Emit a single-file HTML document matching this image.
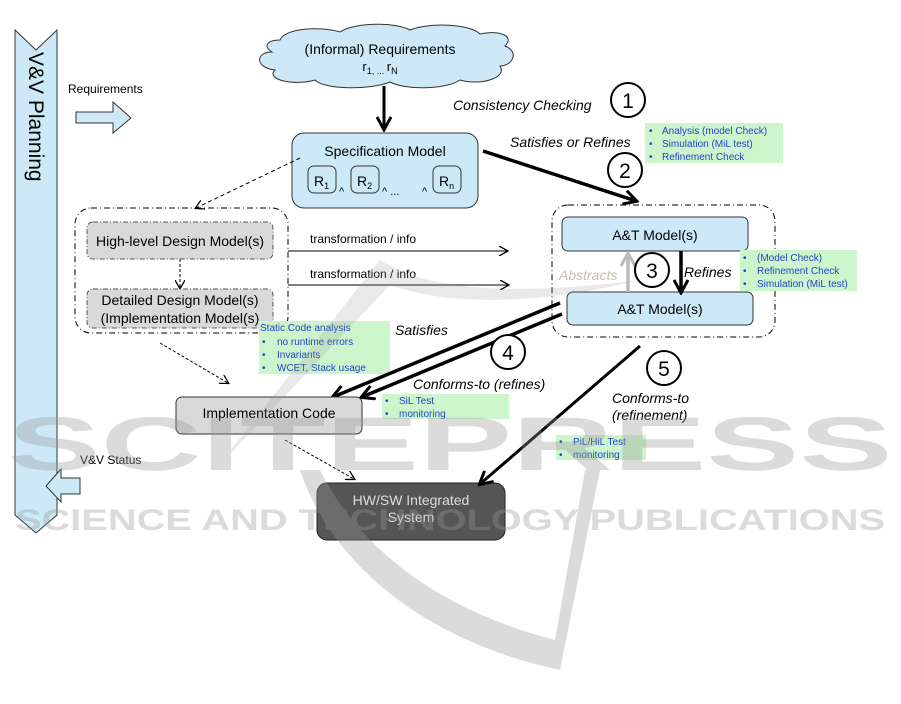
<!DOCTYPE html>
<html><head><meta charset="utf-8"><style>
html,body{margin:0;padding:0;background:#fff;}
svg{display:block;font-family:"Liberation Sans",Arial,sans-serif;}
</style></head><body>
<svg width="901" height="704" viewBox="0 0 901 704" xmlns="http://www.w3.org/2000/svg">
<defs>
<marker id="ab" markerWidth="10" markerHeight="10" refX="8" refY="5" orient="auto" markerUnits="userSpaceOnUse"><path d="M0,0 L9,5 L0,10" fill="none" stroke="#000" stroke-width="1.3"/></marker>
<marker id="abig" markerWidth="16" markerHeight="16" refX="13" refY="8" orient="auto" markerUnits="userSpaceOnUse"><path d="M1,1 L14,8 L1,15" fill="none" stroke="#000" stroke-width="3"/></marker>
<marker id="agray" markerWidth="16" markerHeight="16" refX="13" refY="8" orient="auto" markerUnits="userSpaceOnUse"><path d="M1,1 L14,8 L1,15" fill="none" stroke="#bbb" stroke-width="3"/></marker>
</defs>

<!-- left bar -->
<path d="M15,30 L36,50 L57,30 L57,515 L36,533 L15,515 Z" fill="#cde9f8" stroke="#333" stroke-width="1"/>
<text transform="translate(29,52) rotate(90)" font-size="21" fill="#000">V&amp;V Planning</text>

<text x="68" y="93" font-size="12">Requirements</text>
<path d="M76,112 L113,112 L113,102 L131,118 L113,133 L113,123 L76,123 Z" fill="#cde9f8" stroke="#333"/>
<text x="80" y="464" font-size="12">V&amp;V  Status</text>
<path d="M80,478 L61,478 L61,469 L46,486 L61,502 L61,494 L80,494 Z" fill="#cde9f8" stroke="#333"/>

<!-- cloud -->
<path d="M280,40 C285,28 320,26 340,32 C355,22 395,22 410,30 C430,22 470,24 480,34 C500,30 515,36 505,46 C520,52 512,66 500,66 C508,78 480,86 460,80 C445,90 405,90 390,82 C370,90 325,90 315,80 C295,86 265,80 275,70 C255,68 255,52 272,52 C262,46 268,40 280,40 Z" fill="#cde9f8" stroke="#333"/>
<text x="380" y="54" font-size="14" text-anchor="middle">(Informal) Requirements</text>
<text x="380" y="71" font-size="13" text-anchor="middle">r<tspan font-size="9" dy="3">1, ... </tspan><tspan dy="-3">r</tspan><tspan font-size="9" dy="3">N</tspan></text>

<line x1="384" y1="86" x2="384" y2="129" stroke="#000" stroke-width="3" marker-end="url(#abig)"/>

<!-- spec model -->
<rect x="292" y="133" width="186" height="75" rx="12" fill="#cde9f8" stroke="#333"/>
<text x="385" y="156" font-size="14" text-anchor="middle">Specification Model</text>
<rect x="308" y="166" width="28" height="27" rx="6" fill="#cde9f8" stroke="#333"/>
<text x="314" y="186" font-size="14">R<tspan font-size="9" dy="3">1</tspan></text>
<text x="339" y="195" font-size="11">^</text>
<rect x="351" y="166" width="28" height="27" rx="6" fill="#cde9f8" stroke="#333"/>
<text x="357" y="186" font-size="14">R<tspan font-size="9" dy="3">2</tspan></text>
<text x="382" y="195" font-size="11">^  ...</text>
<text x="422" y="195" font-size="11">^</text>
<rect x="433" y="166" width="28" height="27" rx="6" fill="#cde9f8" stroke="#333"/>
<text x="439" y="186" font-size="14">R<tspan font-size="9" dy="3">n</tspan></text>

<text x="453" y="110" font-size="14" font-style="italic">Consistency Checking</text>
<circle cx="628" cy="100" r="17" fill="none" stroke="#000" stroke-width="2"/>
<text x="628" y="108" font-size="21" text-anchor="middle">1</text>
<text x="510" y="147" font-size="14" font-style="italic">Satisfies or Refines</text>
<circle cx="625" cy="170" r="17" fill="none" stroke="#000" stroke-width="2"/>
<text x="625" y="178" font-size="21" text-anchor="middle">2</text>

<rect x="645" y="123" width="138" height="40" fill="#ccf5cc"/>
<g font-size="10" fill="#2244cc"><text x="649" y="134">•</text><text x="662" y="134">Analysis  (model Check)</text>
<text x="649" y="147">•</text><text x="662" y="147">Simulation  (MiL test)</text>
<text x="649" y="160">•</text><text x="662" y="160">Refinement  Check</text></g>

<line x1="483" y1="151" x2="636" y2="201" stroke="#000" stroke-width="3.5" marker-end="url(#abig)"/>

<!-- A&T container -->
<rect x="552" y="205" width="223" height="132" rx="16" fill="none" stroke="#000" stroke-dasharray="6,3,1,3"/>
<rect x="562" y="217" width="186" height="34" rx="6" fill="#cde9f8" stroke="#333"/>
<text x="655" y="240" font-size="14" text-anchor="middle">A&amp;T Model(s)</text>
<rect x="567" y="292" width="186" height="33" rx="6" fill="#cde9f8" stroke="#333"/>
<text x="660" y="314" font-size="14" text-anchor="middle">A&amp;T Model(s)</text>
<line x1="628" y1="292" x2="628" y2="254" stroke="#bbb" stroke-width="3.5" marker-end="url(#agray)"/>
<line x1="681" y1="251" x2="681" y2="292" stroke="#000" stroke-width="3.5" marker-end="url(#abig)"/>
<circle cx="652" cy="270" r="17" fill="#fff" stroke="#000" stroke-width="2"/>
<text x="652" y="278" font-size="21" text-anchor="middle">3</text>
<text x="559" y="280" font-size="14" font-style="italic" fill="#c8bfa8">Abstracts</text>
<text x="684" y="277" font-size="14" font-style="italic">Refines</text>
<rect x="740" y="250" width="117" height="41" fill="#ccf5cc"/>
<g font-size="10" fill="#2244cc"><text x="743" y="261">•</text><text x="757" y="261">(Model Check)</text>
<text x="743" y="274">•</text><text x="757" y="274">Refinement  Check</text>
<text x="743" y="287">•</text><text x="757" y="287">Simulation  (MiL test)</text></g>

<!-- left container -->
<line x1="300" y1="158" x2="196" y2="208" stroke="#000" stroke-dasharray="4,3" marker-end="url(#ab)"/>
<rect x="75" y="208" width="213" height="125" rx="16" fill="none" stroke="#000" stroke-dasharray="6,3,1,3"/>
<rect x="87" y="222" width="186" height="37" rx="6" fill="#d9d9d9" stroke="#555" stroke-dasharray="5,2,1,2"/>
<text x="180" y="246" font-size="14" text-anchor="middle">High-level Design Model(s)</text>
<line x1="180" y1="259" x2="180" y2="288" stroke="#000" stroke-dasharray="3,2" marker-end="url(#ab)"/>
<rect x="87" y="289" width="186" height="39" rx="6" fill="#d9d9d9" stroke="#555" stroke-dasharray="5,2,1,2"/>
<text x="180" y="305" font-size="14" text-anchor="middle">Detailed Design Model(s)</text>
<text x="180" y="323" font-size="14" text-anchor="middle">(Implementation Model(s)</text>

<line x1="288" y1="251" x2="507" y2="251" stroke="#000" marker-end="url(#ab)"/>
<text x="310" y="243" font-size="12">transformation  / info</text>
<line x1="288" y1="285" x2="508" y2="285" stroke="#000" marker-end="url(#ab)"/>
<text x="310" y="278" font-size="12">transformation  / info</text>

<rect x="259" y="321" width="131" height="53" fill="#ccf5cc"/>
<g font-size="10" fill="#2244cc"><text x="260" y="331">Static Code analysis</text>
<text x="262" y="345">•</text><text x="277" y="345">no runtime errors</text>
<text x="262" y="358">•</text><text x="277" y="358">Invariants</text>
<text x="262" y="371">•</text><text x="277" y="371">WCET, Stack usage</text></g>
<text x="395" y="335" font-size="14" font-style="italic">Satisfies</text>

<line x1="560" y1="303" x2="333" y2="397" stroke="#000" stroke-width="3.5" marker-end="url(#abig)"/>
<line x1="562" y1="314" x2="362" y2="397" stroke="#000" stroke-width="3.5" marker-end="url(#abig)"/>
<circle cx="508" cy="352" r="17" fill="#fff" stroke="#000" stroke-width="2"/>
<text x="508" y="360" font-size="21" text-anchor="middle">4</text>

<line x1="160" y1="343" x2="228" y2="383" stroke="#000" stroke-dasharray="3,2" marker-end="url(#ab)"/>
<rect x="176" y="397" width="186" height="37" rx="6" fill="#d9d9d9" stroke="#333"/>
<text x="269" y="418" font-size="14" text-anchor="middle">Implementation Code</text>
<text x="413" y="389" font-size="14" font-style="italic">Conforms-to (refines)</text>
<rect x="382" y="394" width="127" height="25" fill="#ccf5cc"/>
<g font-size="10" fill="#2244cc"><text x="385" y="404">•</text><text x="399" y="404">SiL Test</text>
<text x="385" y="417">•</text><text x="399" y="417">monitoring</text></g>

<line x1="285" y1="440" x2="354" y2="479" stroke="#000" stroke-dasharray="3,2" marker-end="url(#ab)"/>
<rect x="317" y="483" width="188" height="57" rx="10" fill="#555" stroke="#222"/>
<text x="411" y="505" font-size="14" fill="#ddd" text-anchor="middle">HW/SW Integrated</text>
<text x="411" y="522" font-size="14" fill="#ddd" text-anchor="middle">System</text>

<line x1="640" y1="346" x2="480" y2="484" stroke="#000" stroke-width="3" marker-end="url(#abig)"/>
<circle cx="664" cy="368" r="17" fill="#fff" stroke="#000" stroke-width="2"/>
<text x="664" y="376" font-size="21" text-anchor="middle">5</text>
<text x="612" y="403" font-size="14" font-style="italic">Conforms-to</text>
<text x="612" y="420" font-size="14" font-style="italic">(refinement)</text>
<rect x="556" y="435" width="90" height="25" fill="#ccf5cc"/>
<g font-size="10" fill="#2244cc"><text x="559" y="445">•</text><text x="573" y="445">PiL/HiL Test</text>
<text x="559" y="458">•</text><text x="573" y="458">monitoring</text></g>

<!-- watermark -->
<g opacity="0.35" fill="#999">
<text x="450" y="470" font-size="76" font-weight="bold" text-anchor="middle" textLength="885" lengthAdjust="spacingAndGlyphs">SCITEPRESS</text>
<text x="450" y="530" font-size="30" font-weight="bold" text-anchor="middle" textLength="870" lengthAdjust="spacingAndGlyphs">SCIENCE AND TECHNOLOGY PUBLICATIONS</text>
<path d="M300,470 C330,560 420,640 560,670 L600,470 L585,470 L555,640 C440,610 360,550 320,470 Z"/>
<path d="M215,470 L380,260 C440,300 560,290 640,280 C560,300 460,310 390,285 Z" opacity="0.6"/>
</g>
</svg>
</body></html>
